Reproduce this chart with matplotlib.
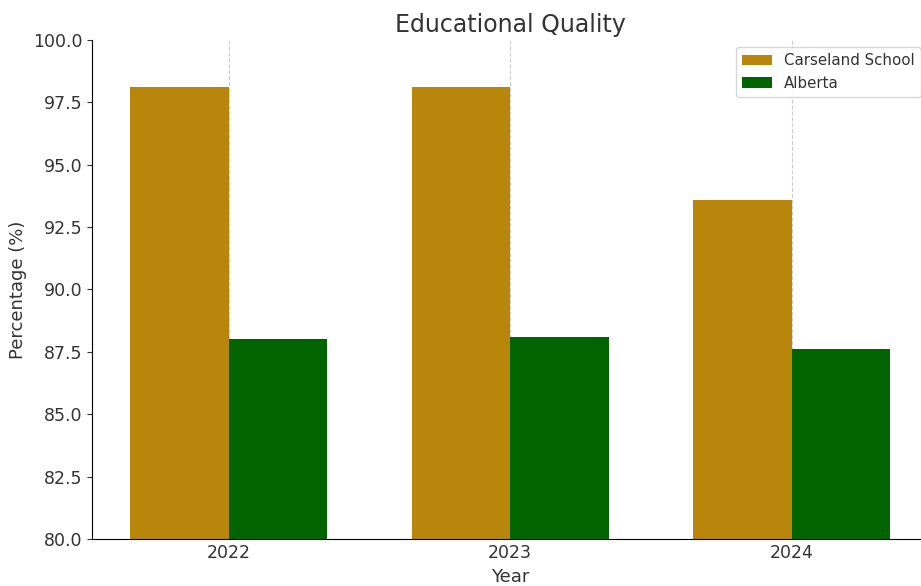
import numpy as np
import matplotlib.pyplot as plt

years = ['2022', '2023', '2024']
carseland = [98.1, 98.1, 93.6]
alberta = [88.0, 88.1, 87.6]

plt.rcParams['text.color'] = '#333333'
plt.rcParams['axes.labelcolor'] = '#333333'
plt.rcParams['xtick.color'] = '#333333'
plt.rcParams['ytick.color'] = '#333333'

fig = plt.figure(figsize=(9.21, 5.86), dpi=100)
ax = fig.add_axes([0.100, 0.080, 0.908, 0.852])

x = np.arange(len(years))
width = 0.35
ax.bar(x - width / 2, carseland, width, color='#B8860B', label='Carseland School')
ax.bar(x + width / 2, alberta, width, color='#006400', label='Alberta')

ax.set_ylim(80, 100)
ax.set_xticks(x)
ax.set_xticklabels(years)
ax.tick_params(labelsize=12.5)
ax.tick_params(axis='x', length=0)
ax.set_xlabel('Year', fontsize=13, labelpad=4)
ax.set_ylabel('Percentage (%)', fontsize=13)
ax.set_title('Educational Quality', fontsize=17)
ax.yaxis.set_major_formatter(plt.FormatStrFormatter('%.1f'))

ax.set_axisbelow(True)
ax.grid(axis='x', linestyle='--', color='#cccccc', linewidth=0.8)
ax.spines['top'].set_visible(False)
ax.spines['right'].set_visible(False)
ax.legend(loc='upper right', fontsize=10.8)

plt.savefig('out.png', dpi=100)
